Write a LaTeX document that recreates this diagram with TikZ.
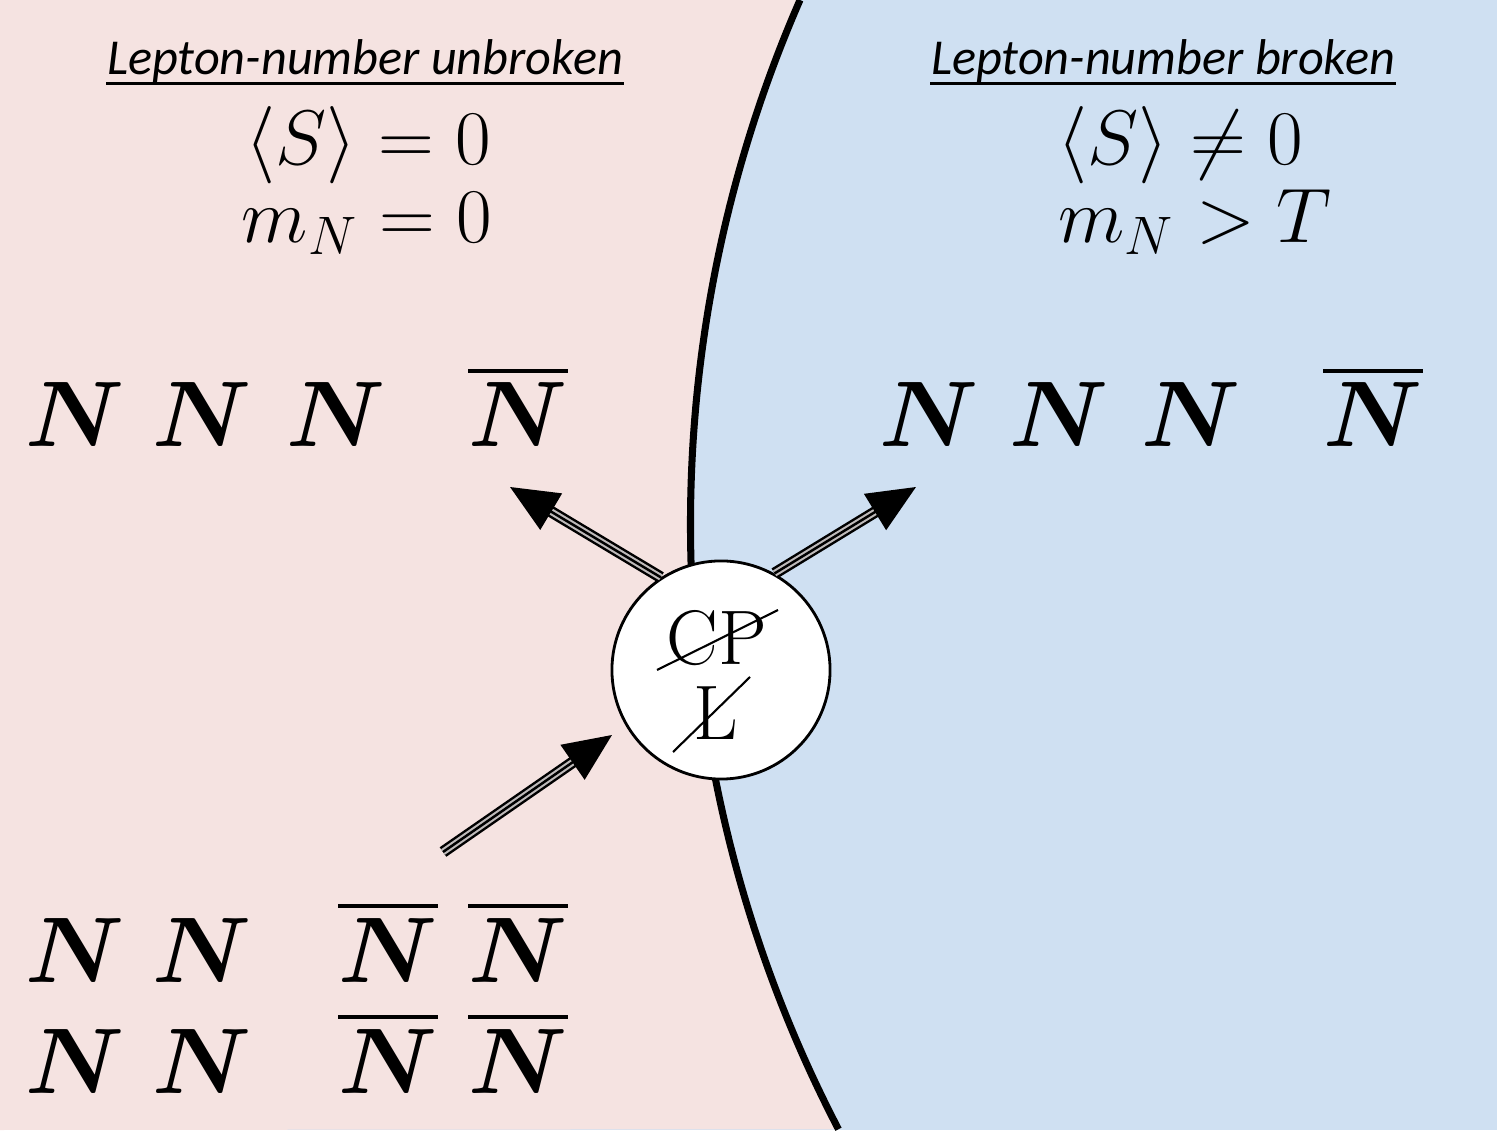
\RequirePackage{fix-cm}
\documentclass[tikz,border=0pt]{standalone}
\usepackage{amsmath}
\usepackage{fontspec}
\newfontfamily\headfont{Carlito}
\usetikzlibrary{calc, positioning}
\usetikzlibrary{arrows.meta}

\definecolor{bgpink}{RGB}{245,227,225}
\definecolor{bgblue}{RGB}{207,224,242}
\definecolor{shaftgap}{RGB}{190,186,186}

\tikzset{
  heading/.style={inner sep=0pt, anchor=base, font=\headfont\itshape\fontsize{14.3}{17}\selectfont},
  mathline/.style={inner sep=0pt, anchor=base, font=\fontsize{22}{26}\selectfont},
  bigN/.style={inner sep=0pt, anchor=base, font=\fontsize{26.5}{30}\selectfont},
  vertex/.style={circle, draw=black, line width=0.8pt, fill=white, minimum size=2.18cm, inner sep=0pt},
  triplearrow/.style={line width=0.7pt, -{Triangle[length=0.48cm,width=0.42cm]},
    preaction={draw, -, black, line width=3.3pt, shorten >=0.3cm},
    preaction={draw, -, shaftgap, line width=1.9pt, shorten >=0.3cm}}
}

\begin{document}
\begin{tikzpicture}[x=0.01cm, y=0.01cm]
\useasboundingbox (0,0) rectangle (1497,1130);

% Two phases, split by the bubble wall.
\fill[bgblue] (0,0) rectangle (1497,1130);
\fill[bgpink] (0,0) -- (0,1130) -- (800,1130)
  arc[start angle=156.4, end angle=207.5, radius=1310] -- cycle;
\draw[line width=2pt] (800,1130) arc[start angle=156.4, end angle=207.5, radius=1310];

% Headings and conditions.
\node[heading] (hL) at (365,1055) {Lepton-number unbroken};
\node[heading] (hR) at (1163,1055) {Lepton-number broken};
\draw[line width=0.85pt] ($(hL.base west)+(0,-9)$) -- ($(hL.base east)+(0,-9)$);
\draw[line width=0.85pt] ($(hR.base west)+(0,-9)$) -- ($(hR.base east)+(0,-9)$);

\node[mathline] (sL) at (368,965) {$\langle S\rangle = 0$};
\node[mathline] (mL) at (367,887) {$m_N = 0$};
\node[mathline] (sR) at (1180,965) {$\langle S\rangle \neq 0$};
\node[mathline] (mR) at (1195,887) {$m_N > T$};

% Particles.
\foreach \x [count=\i] in {75,202,336}
  \node[bigN] (nL\i) at (\x,683) {$\boldsymbol{N}$};
\node[bigN] (nbL) at (518,683) {$\overline{\boldsymbol{N}}$};
\foreach \x [count=\i] in {929,1059,1191}
  \node[bigN] (nR\i) at (\x,683) {$\boldsymbol{N}$};
\node[bigN] (nbR) at (1373,683) {$\overline{\boldsymbol{N}}$};
\foreach \y [count=\j] in {148,37} {
  \node[bigN] (nA\j) at (75,\y) {$\boldsymbol{N}$};
  \node[bigN] (nB\j) at (202,\y) {$\boldsymbol{N}$};
  \node[bigN] (nC\j) at (388,\y) {$\overline{\boldsymbol{N}}$};
  \node[bigN] (nD\j) at (518,\y) {$\overline{\boldsymbol{N}}$};
}

% Interaction vertex.
\node[vertex] (V) at (721,460) {};
\node[mathline] (cp) at (717,465) {CP};
\node[mathline] (ell) at (716,390) {L};
\draw[line width=0.6pt] (657,460) -- (778,520);
\draw[line width=0.6pt] (673,378) -- (750,453);

% Flows in and out.
\coordinate (tipL) at (510,643);
\coordinate (tipR) at (916,643);
\coordinate (tail) at (443,278);
\coordinate (tipV) at (612,395);
\draw[triplearrow] (V.123) -- (tipL);
\draw[triplearrow] (V.61) -- (tipR);
\draw[triplearrow] (tail) -- (tipV);
\end{tikzpicture}
\end{document}
